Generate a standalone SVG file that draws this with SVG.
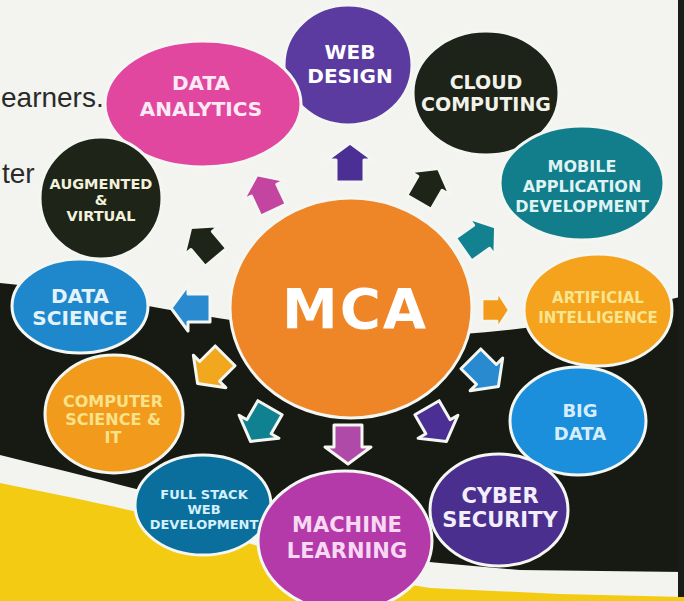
<svg xmlns="http://www.w3.org/2000/svg" width="684" height="601" viewBox="0 0 684 601">
<style>
.lbl{font-family:"DejaVu Sans","Liberation Sans",sans-serif;font-weight:bold;text-anchor:middle}
.node{stroke:#f4f6f2;stroke-width:3}
.arr{stroke:#f4f6f2;stroke-width:3;stroke-linejoin:round}
.side{font-family:"Liberation Sans",Arial,sans-serif;font-size:28px;fill:#2a2a2a}
</style>
<defs>
<path id="ar" d="M0,-19 L23,-2 L14,-2 L14,20 L-14,20 L-14,-2 L-23,-2 Z"/>
</defs>
<g id="background">
<rect x="0" y="0" width="684" height="601" fill="#f3f4f0"/>
<path d="M0,283 C100,292 200,322 350,334 C480,342 580,322 684,296 L684,601 L0,601 Z" fill="#161a13"/>
<path d="M0,455 C60,470 110,482 160,495 C260,525 360,556 440,563 L520,570 L684,572 L684,601 L0,601 Z" fill="#f3f4f0"/>
<path d="M0,483 C60,495 110,505 170,520 C260,545 340,575 430,588 L560,594 L684,597 L684,601 L0,601 Z" fill="#f3cb12"/>
<rect x="678" y="0" width="6" height="597" fill="#1a1d17"/>
<text class="side" x="1" y="107">earners.</text>
<text class="side" x="2" y="183">ter</text>
</g>
<g id="connectors">
<use href="#ar" class="arr" fill="#4b2f95" transform="translate(350,162)"/>
<use href="#ar" class="arr" fill="#1e2418" transform="translate(429,185) rotate(30)"/>
<use href="#ar" class="arr" fill="#138290" transform="translate(480,238) rotate(55)"/>
<use href="#ar" class="arr" fill="#f39a1a" transform="translate(496,310) rotate(90) scale(0.78,0.68)"/>
<use href="#ar" class="arr" fill="#2a8ad0" transform="translate(485,373) rotate(135)"/>
<use href="#ar" class="arr" fill="#4b2f95" transform="translate(437,425) rotate(150)"/>
<use href="#ar" class="arr" fill="#b04aa8" transform="translate(348,445) rotate(180)"/>
<use href="#ar" class="arr" fill="#108190" transform="translate(260,425) rotate(210)"/>
<use href="#ar" class="arr" fill="#f2a81e" transform="translate(211,370) rotate(225)"/>
<use href="#ar" class="arr" fill="#2a8ad0" transform="translate(190,308) rotate(270)"/>
<use href="#ar" class="arr" fill="#1e2418" transform="translate(203,242) rotate(-40)"/>
<use href="#ar" class="arr" fill="#c3459f" transform="translate(265,192) rotate(-25)"/>
</g>
<g id="cloud-computing">
<ellipse class="node" cx="486" cy="93" rx="73" ry="62" fill="#1d2318"/>
<text class="lbl" x="486" y="89" font-size="19" fill="#f2f2ea">CLOUD</text>
<text class="lbl" x="486" y="111" font-size="19" fill="#f2f2ea">COMPUTING</text>
</g>
<g id="web-design">
<ellipse class="node" cx="348" cy="65" rx="64" ry="60" fill="#5b3b9f"/>
<text class="lbl" x="350" y="59" font-size="20" fill="#ffffff">WEB</text>
<text class="lbl" x="350" y="83" font-size="20" fill="#ffffff">DESIGN</text>
</g>
<g id="data-analytics">
<ellipse class="node" cx="203" cy="104" rx="98" ry="63" fill="#e2479f"/>
<text class="lbl" x="201" y="90" font-size="20" fill="#fbeaf4">DATA</text>
<text class="lbl" x="201" y="116" font-size="20" fill="#fbeaf4">ANALYTICS</text>
</g>
<g id="mobile-app">
<ellipse class="node" cx="582" cy="183" rx="82" ry="57" fill="#127d8b"/>
<text class="lbl" x="582" y="172" font-size="16" fill="#dff3f3">MOBILE</text>
<text class="lbl" x="582" y="192" font-size="16" fill="#dff3f3">APPLICATION</text>
<text class="lbl" x="582" y="212" font-size="16" fill="#dff3f3">DEVELOPMENT</text>
</g>
<g id="big-data">
<ellipse class="node" cx="578" cy="421" rx="68" ry="54" fill="#1b8fdc"/>
<text class="lbl" x="580" y="417" font-size="18" fill="#d6eefc">BIG</text>
<text class="lbl" x="580" y="440" font-size="18" fill="#d6eefc">DATA</text>
</g>
<g id="artificial-intelligence">
<ellipse class="node" cx="598" cy="310" rx="74" ry="56" fill="#f5a21c"/>
<text class="lbl" x="598" y="303" font-size="15" fill="#f8e590">ARTIFICIAL</text>
<text class="lbl" x="598" y="323" font-size="15" fill="#f8e590">INTELLIGENCE</text>
</g>
<g id="cyber-security">
<ellipse class="node" cx="499" cy="510" rx="69" ry="56" fill="#4a2f8f"/>
<text class="lbl" x="500" y="503" font-size="21" fill="#f2eefa">CYBER</text>
<text class="lbl" x="500" y="527" font-size="21" fill="#f2eefa">SECURITY</text>
</g>
<g id="full-stack">
<ellipse class="node" cx="203" cy="505" rx="68" ry="50" fill="#0b6f9e"/>
<text class="lbl" x="204" y="499" font-size="13" fill="#d3f1fb">FULL STACK</text>
<text class="lbl" x="204" y="514" font-size="13" fill="#d3f1fb">WEB</text>
<text class="lbl" x="204" y="529" font-size="13" fill="#d3f1fb">DEVELOPMENT</text>
</g>
<g id="machine-learning">
<ellipse class="node" cx="345" cy="541" rx="87" ry="70" fill="#b43aaa"/>
<text class="lbl" x="347" y="532" font-size="21" fill="#f8d8f2">MACHINE</text>
<text class="lbl" x="347" y="558" font-size="21" fill="#f8d8f2">LEARNING</text>
</g>
<g id="data-science">
<ellipse class="node" cx="80" cy="306" rx="68" ry="47" fill="#1f88cc"/>
<text class="lbl" x="80" y="303" font-size="20" fill="#e4f3fb">DATA</text>
<text class="lbl" x="80" y="325" font-size="20" fill="#e4f3fb">SCIENCE</text>
</g>
<g id="computer-science">
<ellipse class="node" cx="114" cy="414" rx="69" ry="59" fill="#f29a1c"/>
<text class="lbl" x="113" y="407" font-size="16" fill="#f8e28a">COMPUTER</text>
<text class="lbl" x="113" y="425" font-size="16" fill="#f8e28a">SCIENCE &amp;</text>
<text class="lbl" x="113" y="443" font-size="16" fill="#f8e28a">IT</text>
</g>
<g id="augmented-virtual">
<ellipse class="node" cx="101" cy="198" rx="61" ry="61" fill="#1e2417"/>
<text class="lbl" x="101" y="189" font-size="14.5" fill="#f2f2dc">AUGMENTED</text>
<text class="lbl" x="101" y="205" font-size="14.5" fill="#f2f2dc">&amp;</text>
<text class="lbl" x="101" y="221" font-size="14.5" fill="#f2f2dc">VIRTUAL</text>
</g>
<g id="mca">
<ellipse class="node" cx="351" cy="308" rx="121" ry="110" fill="#ee8526"/>
<text class="lbl" x="355" y="328" font-size="56" letter-spacing="2" fill="#ffffff">MCA</text>
</g>
</svg>
